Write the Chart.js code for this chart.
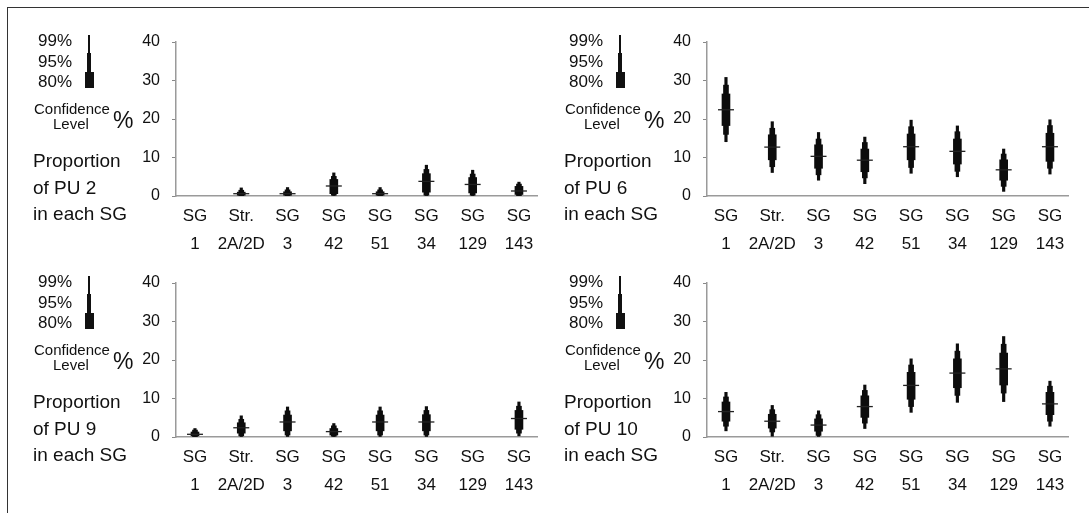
<!DOCTYPE html>
<html>
<head>
<meta charset="utf-8">
<script src="https://cdn.jsdelivr.net/npm/chart.js@4.4.1/dist/chart.umd.min.js"></script>
<style>
body { margin: 0; background: #fff; width: 1089px; height: 513px; overflow: hidden; position: relative;
       font-family: "Liberation Sans", Arial, sans-serif; color: #111; }
#frame { position: absolute; left: 7px; top: 7px; width: 1100px; height: 520px;
         border-left: 1.5px solid #333; border-top: 1.5px solid #333; }
.panel { position: absolute; width: 558px; height: 256px; }
.panel canvas { position: absolute; left: 0; top: 0; }
.t { position: absolute; white-space: nowrap; }
.bar { position: absolute; background: #111; }
</style>
</head>
<body>
<div id="frame"></div>
<div id="panels"></div>
<script>
// x categories (two lines each)
var categories = [['SG', '1'], ['Str.', '2A/2D'], ['SG', '3'], ['SG', '42'], ['SG', '51'], ['SG', '34'], ['SG', '129'], ['SG', '143']];
var yTicks = [0, 10, 20, 30, 40];
var levels = ['99%', '95%', '80%'];

// PU 2
var pu2Median = [null, 0.6, 0.6, 2.6, 0.6, 3.8, 3.0, 1.3];
var pu2Ci80 = [null, [0.2, 1.0], [0.2, 1.1], [0.6, 4.3], [0.2, 1.1], [1.0, 5.8], [0.8, 4.8], [0.4, 2.5]];
var pu2Ci95 = [null, [0.05, 1.5], [0.05, 1.6], [0.2, 5.1], [0.05, 1.6], [0.2, 6.9], [0.2, 5.7], [0.1, 3.1]];
var pu2Ci99 = [null, [0, 2.1], [0, 2.2], [0, 6.0], [0, 2.2], [0, 8.0], [0, 6.7], [0, 3.6]];

// PU 6
var pu6Median = [22.4, 12.7, 10.3, 9.3, 12.8, 11.6, 6.8, 12.8];
var pu6Ci80 = [[18.3, 26.5], [9.4, 15.9], [7.2, 13.3], [6.3, 12.2], [9.4, 16.1], [8.3, 14.8], [4.1, 9.4], [9.0, 16.3]];
var pu6Ci95 = [[16.0, 28.8], [7.6, 17.6], [5.5, 14.8], [4.7, 13.9], [7.4, 18.0], [6.4, 16.7], [2.5, 10.9], [7.2, 18.3]];
var pu6Ci99 = [[14.1, 30.8], [6.1, 19.3], [4.1, 16.5], [3.2, 15.3], [5.9, 19.7], [5.0, 18.2], [1.2, 12.2], [5.7, 19.8]];

// PU 9
var pu9Median = [0.7, 2.4, 3.9, 1.4, 3.9, 3.9, null, 4.8];
var pu9Ci80 = [[0.3, 1.3], [1.0, 3.7], [1.6, 5.7], [0.5, 2.2], [1.6, 5.7], [1.6, 5.8], null, [2.0, 6.9]];
var pu9Ci95 = [[0.1, 1.8], [0.3, 4.6], [0.5, 6.8], [0.2, 2.9], [0.5, 6.8], [0.5, 6.9], null, [1.0, 8.0]];
var pu9Ci99 = [[0, 2.2], [0, 5.5], [0, 7.8], [0, 3.5], [0, 7.8], [0, 7.9], null, [0.3, 9.1]];

// PU 10
var pu10Median = [6.6, 4.1, 3.1, 7.9, 13.4, 16.6, 17.7, 8.6];
var pu10Ci80 = [[4.1, 9.1], [2.3, 5.9], [1.5, 4.7], [5.1, 10.7], [9.8, 16.8], [12.8, 20.3], [13.5, 21.8], [5.8, 11.6]];
var pu10Ci95 = [[2.8, 10.4], [1.3, 7.1], [0.4, 5.8], [3.6, 12.1], [7.9, 18.7], [10.8, 22.3], [11.4, 24.1], [4.1, 13.2]];
var pu10Ci99 = [[1.6, 11.6], [0.2, 8.2], [0, 6.8], [2.2, 13.5], [6.4, 20.3], [9.0, 24.2], [9.2, 26.1], [2.8, 14.5]];

var panels = [
    { name: 'PU 2', left: 0, top: 0, median: pu2Median, c80: pu2Ci80, c95: pu2Ci95, c99: pu2Ci99 },
    { name: 'PU 6', left: 531, top: 0, median: pu6Median, c80: pu6Ci80, c95: pu6Ci95, c99: pu6Ci99 },
    { name: 'PU 9', left: 0, top: 241, median: pu9Median, c80: pu9Ci80, c95: pu9Ci95, c99: pu9Ci99 },
    { name: 'PU 10', left: 531, top: 241, median: pu10Median, c80: pu10Ci80, c95: pu10Ci95, c99: pu10Ci99 }
];

var FONT = '"Liberation Sans", Arial, sans-serif';

function toPoints(arr) {
    var out = [];
    arr.forEach(function (v, i) { if (v !== null) out.push({ x: i, y: v }); });
    return out;
}

function rangeSet(arr, thick) {
    return {
        type: 'bar', data: toPoints(arr), grouped: false, barThickness: thick,
        backgroundColor: '#0c0c0c', borderWidth: 0
    };
}

function addText(box, txt, css) {
    var d = document.createElement('div');
    d.className = 't';
    d.textContent = txt;
    Object.assign(d.style, css);
    box.appendChild(d);
    return d;
}

function addBar(box, l, t, w, h) {
    var d = document.createElement('div');
    d.className = 'bar';
    Object.assign(d.style, { left: l + 'px', top: t + 'px', width: w + 'px', height: h + 'px' });
    box.appendChild(d);
}

panels.forEach(function (p) {
    var box = document.createElement('div');
    box.className = 'panel';
    box.style.left = p.left + 'px';
    box.style.top = p.top + 'px';
    document.getElementById('panels').appendChild(box);

    var cv = document.createElement('canvas');
    cv.width = 558; cv.height = 256;
    cv.style.width = '558px'; cv.style.height = '256px';
    box.appendChild(cv);

    // confidence legend
    levels.forEach(function (lv, i) {
        addText(box, lv, { left: '38px', top: (31 + i * 20.5) + 'px', fontSize: '17px', lineHeight: '20px' });
    });
    addBar(box, 88.3, 35, 1.5, 18.5);
    addBar(box, 87, 53, 4, 19);
    addBar(box, 85, 71.5, 9, 16.5);
    addText(box, 'Confidence', { left: '34px', top: '101px', fontSize: '15px', lineHeight: '16px' });
    addText(box, 'Level', { left: '53px', top: '116px', fontSize: '15px', lineHeight: '16px' });
    addText(box, '%', { left: '113px', top: '107px', fontSize: '23px', lineHeight: '27px' });
    addText(box, 'Proportion', { left: '33px', top: '148px', fontSize: '19px', lineHeight: '26px' });
    addText(box, 'of ' + p.name, { left: '33px', top: '174.5px', fontSize: '19px', lineHeight: '26px' });
    addText(box, 'in each SG', { left: '33px', top: '201px', fontSize: '19px', lineHeight: '26px' });

    new Chart(cv, {
        type: 'bar',
        data: {
            datasets: [
                {
                    type: 'scatter', data: toPoints(p.median), pointStyle: 'line', pointRadius: 8,
                    pointHoverRadius: 8, borderColor: '#222', borderWidth: 1.3, order: 0
                },
                Object.assign(rangeSet(p.c80, 8), { order: 1 }),
                Object.assign(rangeSet(p.c95, 5), { order: 2 }),
                Object.assign(rangeSet(p.c99, 2.5), { order: 3 })
            ]
        },
        options: {
            responsive: false,
            animation: false,
            events: [],
            layout: { padding: { left: 126, top: 42, right: 21, bottom: 4 } },
            plugins: { legend: { display: false }, tooltip: { enabled: false } },
            scales: {
                x: {
                    type: 'linear', min: -0.41, max: 7.39, offset: false,
                    grid: { drawOnChartArea: false, drawTicks: false, offset: false },
                    border: { color: '#9a9a9a', width: 1.5 },
                    ticks: {
                        stepSize: 1, autoSkip: false, maxRotation: 0, includeBounds: false, padding: 6,
                        color: '#111', font: { family: FONT, size: 17, lineHeight: 1.65 },
                        callback: function (v) { return (Number.isInteger(v) && v >= 0 && v < categories.length) ? categories[v] : ''; }
                    },
                    afterFit: function (s) { s.height = 56; }
                },
                y: {
                    min: yTicks[0], max: yTicks[yTicks.length - 1],
                    grid: { drawOnChartArea: false, drawTicks: true, tickLength: 4, color: '#888' },
                    border: { color: '#9a9a9a', width: 1.5 },
                    ticks: {
                        stepSize: 10, padding: 12, color: '#111',
                        font: { family: FONT, size: 16 }
                    },
                    afterFit: function (s) { s.width = 50; }
                }
            }
        }
    });
});
</script>
</body>
</html>
